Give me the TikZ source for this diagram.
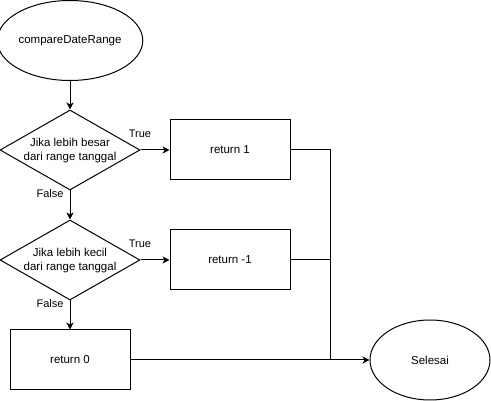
\documentclass[tikz,border=0pt]{standalone}
\usepackage{fontspec}
\setmainfont{Liberation Sans}
\usetikzlibrary{shapes.geometric,arrows.meta}
\begin{document}
\begin{tikzpicture}[x=1pt,y=-1pt,
  every node/.style={font=\fontsize{11.5}{14}\selectfont},
  line/.style={line width=1pt,draw=black},
  flow/.style={line, -{Stealth[length=7pt,width=7pt,inset=2pt]}},
  term/.style={ellipse,line,minimum width=120pt,minimum height=80pt,inner sep=0pt},
  procbox/.style={rectangle,line,minimum width=120pt,minimum height=60pt,inner sep=0pt},
  decision/.style={diamond,line,minimum width=140pt,minimum height=80pt,inner sep=0pt},
  tag/.style={inner sep=0pt,font=\fontsize{11}{13}\selectfont}]
\useasboundingbox (0,0) rectangle (491,401);

% terminals
\node[term] (start) at (70,40.5) {compareDateRange};
\node[term] (stop) at (430,360) {Selesai};

% decisions
\node[decision, label={[align=center,yshift=-1pt]center:Jika lebih besar\\dari range tanggal}] (d1) at (70,150) {};
\node[decision, label={[align=center,yshift=-1pt]center:Jika lebih kecil\\dari range tanggal}] (d2) at (70,260) {};

% results
\node[procbox] (r1) at (230,150) {return 1};
\node[procbox] (r2) at (230,260) {return -1};
\node[procbox] (r0) at (70,360) {return 0};

% branch labels
\node[tag] (t1) at (140,134) {True};
\node[tag] (t2) at (140,244) {True};
\node[tag] (f1) at (50,194) {False};
\node[tag] (f2) at (50,304) {False};

% junction on the right
\coordinate (j) at (330,360);

% connectors
\draw[flow] (start) -- (d1);
\draw[flow] (d1.east) -- (r1.west);
\draw[flow] (d1.south) -- (d2.north);
\draw[flow] (d2.east) -- (r2.west);
\draw[flow] (d2.south) -- (r0.north);
\draw[line] (r1.east) -| (j);
\draw[line] (r2.east) -| (j);
\draw[flow] (r0.east) -- (stop.west);
\end{tikzpicture}
\end{document}
